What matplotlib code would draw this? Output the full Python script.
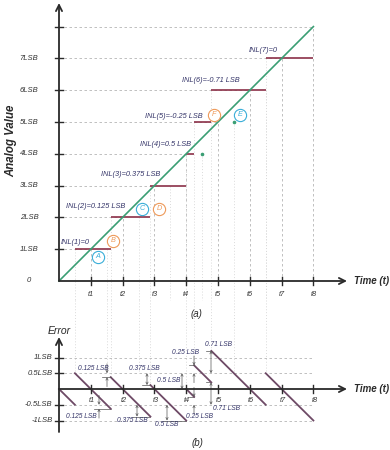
import matplotlib
matplotlib.use('Agg')
import matplotlib.pyplot as plt

# ---------------- data ----------------
codes = [1, 2, 3, 4, 5, 6, 7]
inl_values = [0, 0.125, 0.375, 0.5, -0.25, -0.71, 0]
inl_labels = ['INL(1)=0', 'INL(2)=0.125 LSB', 'INL(3)=0.375 LSB', 'INL(4)=0.5 LSB',
              'INL(5)=-0.25 LSB', 'INL(6)=-0.71 LSB', 'INL(7)=0']
transitions = [0.5, 1.625, 2.875, 4.0, 4.25, 4.79, 6.5]   # start of code 1..7
full_scale = 8
time_ticks = [1, 2, 3, 4, 5, 6, 7, 8]
time_labels = ['t1', 't2', 't3', 't4', 't5', 't6', 't7', 't8']
top_ticks = [0, 1, 2, 3, 4, 5, 6, 7]
top_tick_labels = ['0', '1LSB', '2LSB', '3LSB', '4LSB', '5LSB', '6LSB', '7LSB']
err_ticks = [1, 0.5, -0.5, -1]
err_tick_labels = ['1LSB', '0.5LSB', '-0.5LSB', '-1LSB']
gap_labels = ['0.125 LSB', '0.375 LSB', '0.5 LSB', '0.25 LSB', '0.71 LSB']
circle_letters = ['A', 'B', 'C', 'D', 'F', 'E']

# ---------------- styles ----------------
AX = '#2a2a2a'
GREEN = '#3a9e74'
RED = '#8b3048'
SAW = '#6e4a66'
GRID = '#b5b5b5'
FAINT = '#dadada'
NAVY = '#343468'
TEAL = '#3aaed8'
ORANGE = '#ee9a5a'
FONT = 'Liberation Sans'

# pixel -> data helpers (layout only)
SX, SY, SB = 31.8, 31.8, 31.5
def tx(px): return (px - 59) / SX
def ty(py): return (281 - py) / SY
def by(py): return (389 - py) / SB

fig = plt.figure(figsize=(3.9, 4.5), dpi=100)
axt = fig.add_axes([0, 150 / 450, 1, 300 / 450])
axt.set_xlim(tx(0), tx(390)); axt.set_ylim(ty(300), ty(0)); axt.axis('off')
axb = fig.add_axes([0, 0, 1, 150 / 450])
axb.set_xlim(tx(0), tx(390)); axb.set_ylim(by(450), by(300)); axb.axis('off')

dash = (0, (3, 3))
dot = (0, (1, 2))

# ================= top panel =================
ends = transitions[1:] + [full_scale]
for k in range(1, full_scale + 1):
    axt.plot([0, k], [k, k], ls=dash, color=GRID, lw=0.6, zorder=1)
for t in time_ticks:
    axt.plot([t, t], [0, t], ls=dash, color=GRID, lw=0.6, zorder=1)
for k in codes[:-1]:
    axt.plot([k + 0.5, k + 0.5], [k, ty(300)], ls=dot, color=FAINT, lw=0.7, zorder=1, clip_on=False)
for c, T in zip(codes, transitions):
    axt.plot([T, T], [c, ty(300)], ls=dot, color=FAINT, lw=0.7, zorder=1, clip_on=False)
    axb.plot([T, T], [by(300), c - T], ls=dot, color=FAINT, lw=0.7, zorder=1, clip_on=False)
for k in [1, 2, 5]:
    axb.plot([k + 0.5, k + 0.5], [by(300), 0.5], ls=dot, color=FAINT, lw=0.7, zorder=1)

axt.plot([0, full_scale], [0, full_scale], color=GREEN, lw=1.2, zorder=3)
for c, s, e in zip(codes, transitions, ends):
    axt.plot([s, e], [c, c], color=RED, lw=1.2, zorder=2, solid_capstyle='butt')
axt.plot([4.5, 5.5], [4, 5], ls='none', marker='o', ms=1.6, color=GREEN, zorder=3)

inl_pos = [(61, 242), (66, 207), (101, 175), (140, 144), (145, 116), (182, 80), (249, 51)]
for lab, (px, py) in zip(inl_labels, inl_pos):
    axt.text(tx(px), ty(py), lab, fontsize=5.3, style='italic', color=NAVY,
             ha='left', va='center', family=FONT, zorder=4)

circ_pos = [(98, 257), (113, 241), (142, 209), (159, 209), (214, 115), (240, 115)]
circ_col = [TEAL, ORANGE, TEAL, ORANGE, ORANGE, TEAL]
for let, (px, py), col in zip(circle_letters, circ_pos, circ_col):
    axt.plot(tx(px), ty(py), marker='o', ms=8.8, mfc='white', mec=col, mew=0.8, zorder=5)
    axt.text(tx(px), ty(py), let, fontsize=5.2, style='italic', color=col,
             ha='center', va='center', family=FONT, zorder=6)

arrow = dict(arrowstyle='->', lw=1.3, color=AX, mutation_scale=11, shrinkA=0, shrinkB=0)
axt.annotate('', xy=(0, ty(3)), xytext=(0, 0), arrowprops=arrow, zorder=6)
axt.annotate('', xy=(tx(347), 0), xytext=(0, 0), arrowprops=arrow, zorder=6)
for k in range(1, full_scale + 1):
    axt.plot([-0.13, 0.13], [k, k], color=AX, lw=1.0, zorder=6)
for t in time_ticks:
    axt.plot([t, t], [-0.12, 0.12], color=AX, lw=1.0, zorder=6)
for v, lab in zip(top_ticks, top_tick_labels):
    axt.text(tx(29), v, lab, fontsize=5.5, style='italic', color='#333333',
             ha='center', va='center', family=FONT)
for t, lab in zip(time_ticks, time_labels):
    axt.text(t, ty(294), lab, fontsize=5.3, style='italic', color='#333333',
             ha='center', va='center', family=FONT)
axt.text(tx(11), ty(141), 'Analog Value', rotation=90, fontsize=8.3, style='italic',
         weight='bold', color=AX, ha='center', va='center', family=FONT)
axt.text(tx(354), 0, 'Time (t)', fontsize=7, style='italic', weight='bold',
         color=AX, ha='left', va='center', family=FONT)
axt.text(tx(196), ty(314), '(a)', fontsize=7, style='italic', color=AX,
         ha='center', va='center', family=FONT)

# ================= bottom panel (error) =================
for v in err_ticks:
    axb.plot([0, full_scale], [v, v], ls=dash, color=GRID, lw=0.6, zorder=1)

seg_starts = [0] + transitions
seg_ends = transitions + [full_scale]
for c, s, e in zip([0] + codes, seg_starts, seg_ends):
    axb.plot([s, e], [c - s, c - e], color=SAW, lw=1.3, zorder=3)

GA = '#555555'
def dim(ax, x, ya, yb):
    lo, hi = min(ya, yb), max(ya, yb)
    kw = dict(lw=0.5, color=GA, mutation_scale=4, shrinkA=0, shrinkB=0)
    if hi - lo < 0.3:
        ax.annotate('', xy=(x, hi), xytext=(x, hi + 0.3), arrowprops=dict(arrowstyle='->', **kw), zorder=4)
        ax.annotate('', xy=(x, lo), xytext=(x, lo - 0.3), arrowprops=dict(arrowstyle='->', **kw), zorder=4)
    else:
        ax.annotate('', xy=(x, yb), xytext=(x, ya), arrowprops=dict(arrowstyle='<->', **kw), zorder=4)

top_arrow_x = [107, 147, 182, 194, 211]
top_lab = [(78, 369), (129, 369), (157, 380), (172, 352), (205, 345)]
bot_arrow_x = [99, 137, 167, 194, 211]
bot_lab = [(66, 417), (117, 421), (155, 424), (186, 417), (213, 408)]
for i in range(1, 6):
    c = codes[i]
    T = transitions[i]
    y_top = c - T
    y_bot = (c - 1) - T
    ax_x = tx(top_arrow_x[i - 1])
    dim(axb, ax_x, 0.5, y_top)
    axb.plot([ax_x - 0.15, T], [y_top, y_top], color=GA, lw=0.5, zorder=4)
    bx_x = tx(bot_arrow_x[i - 1])
    dim(axb, bx_x, -0.5, y_bot)
    axb.plot([bx_x - 0.15, T], [y_bot, y_bot], color=GA, lw=0.5, zorder=2)
    lx, ly = top_lab[i - 1]
    axb.text(tx(lx), by(ly), gap_labels[i - 1], fontsize=4.8, style='italic', color=NAVY,
             ha='left', va='center', family=FONT, zorder=5)
    lx, ly = bot_lab[i - 1]
    axb.text(tx(lx), by(ly), gap_labels[i - 1], fontsize=4.8, style='italic', color=NAVY,
             ha='left', va='center', family=FONT, zorder=5)

axb.annotate('', xy=(0, by(337)), xytext=(0, by(432)), arrowprops=arrow, zorder=6)
axb.annotate('', xy=(tx(347), 0), xytext=(0, 0), arrowprops=arrow, zorder=6)
for v in err_ticks:
    axb.plot([-0.13, 0.13], [v, v], color=AX, lw=1.0, zorder=6)
for t in time_ticks:
    axb.plot([t, t], [-0.12, 0.12], color=AX, lw=1.0, zorder=6)
for v, lab in zip(err_ticks, err_tick_labels):
    axb.text(tx(52.5), v, lab, fontsize=5.5, style='italic', color='#333333',
             ha='right', va='center', family=FONT)
for t, lab in zip(time_ticks, time_labels):
    axb.text(t + 0.03, by(400), lab, fontsize=5.3, style='italic', color='#333333',
             ha='center', va='center', family=FONT)
axb.text(tx(59), by(331), 'Error', fontsize=7.5, style='italic', color=AX,
         ha='center', va='center', family=FONT)
axb.text(tx(354), 0, 'Time (t)', fontsize=7, style='italic', weight='bold',
         color=AX, ha='left', va='center', family=FONT)
axb.text(tx(197), by(443), '(b)', fontsize=7, style='italic', color=AX,
         ha='center', va='center', family=FONT)

fig.savefig('out.png', dpi=100, facecolor='white')
